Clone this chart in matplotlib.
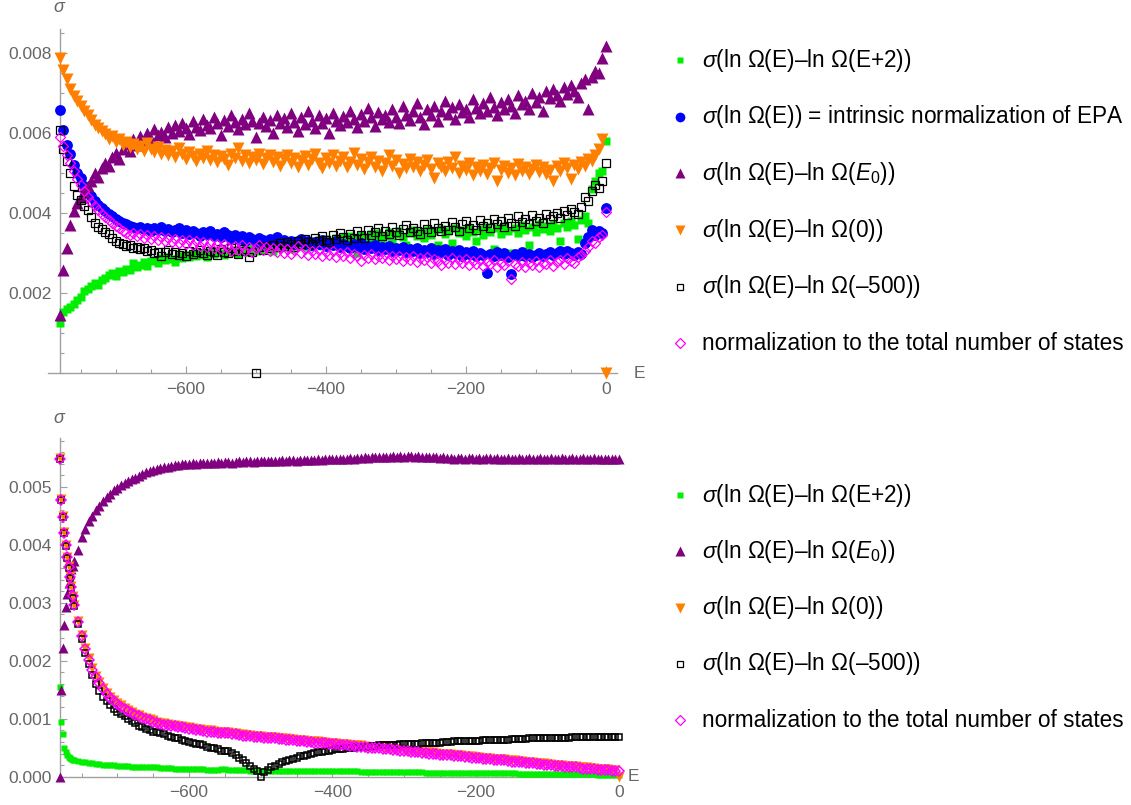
import numpy as np
import matplotlib
matplotlib.use("Agg")
import matplotlib.pyplot as plt
from matplotlib.ticker import MultipleLocator, FixedLocator, FormatStrFormatter

plt.rcParams['font.family'] = ['Liberation Sans', 'DejaVu Sans']
plt.rcParams['mathtext.fontset'] = 'custom'
plt.rcParams['mathtext.rm'] = 'Liberation Sans'
plt.rcParams['mathtext.it'] = 'Liberation Sans:italic'

# ---------------- data (sigma in units of 1e-5) ----------------
# top panel: E = -780 ... 0, every 5
E_TOP = list(range(-780, 1, 5))

top_e2 = [125, 152, 160, 166, 172, 183, 190, 205, 210, 218,
          225, 220, 233, 238, 245, 250, 242, 255, 252, 260,
          258, 275, 265, 270, 278, 268, 280, 284, 276, 288,
          282, 290, 286, 278, 292, 288, 295, 290, 298, 293,
          300, 296, 291, 303, 299, 305, 300, 296, 306, 302,
          308, 298, 305, 310, 303, 312, 306, 315, 309, 318,
          312, 305, 320, 314, 322, 316, 310, 325, 318, 328,
          321, 315, 330, 324, 333, 318, 336, 328, 322, 338,
          331, 340, 326, 343, 335, 300, 345, 338, 330, 347,
          340, 350, 336, 344, 352, 333, 347, 355, 341, 320,
          350, 357, 343, 352, 338, 358, 346, 355, 320, 360,
          349, 356, 325, 362, 351, 358, 343, 364, 352, 330,
          361, 345, 366, 353, 310, 362, 348, 368, 356, 300,
          364, 350, 370, 358, 320, 366, 352, 372, 360, 368,
          355, 374, 362, 330, 376, 365, 380, 370, 335, 382,
          392, 375, 460, 480, 500, 505, 580]

top_intrinsic = [658, 608, 570, 548, 520, 500, 488, 468, 452, 442,
                 430, 420, 412, 405, 398, 392, 386, 380, 375, 372,
                 368, 366, 362, 366, 360, 364, 356, 362, 358, 365,
                 355, 360, 352, 358, 362, 350, 357, 348, 355, 350,
                 344, 352, 347, 355, 342, 348, 340, 352, 345, 338,
                 346, 336, 344, 330, 340, 335, 328, 338, 332, 326,
                 335, 330, 340, 327, 333, 325, 331, 322, 330, 336,
                 324, 330, 320, 328, 322, 332, 318, 326, 320, 330,
                 316, 324, 318, 312, 322, 315, 325, 310, 318, 312,
                 320, 308, 316, 311, 318, 305, 314, 308, 316, 302,
                 311, 306, 314, 300, 309, 304, 312, 298, 307, 302,
                 310, 296, 305, 300, 308, 294, 303, 298, 306, 293,
                 301, 296, 250, 298, 292, 303, 295, 300, 290, 247,
                 298, 292, 302, 294, 299, 290, 296, 300, 292, 298,
                 302, 295, 300, 305, 298, 306, 300, 295, 303, 298,
                 325, 340, 358, 345, 356, 350, 413]

top_e0 = [146, 258, 313, 370, 405, 425, 440, 452, 467, 480,
          500, 490, 512, 525, 518, 540, 550, 535, 560, 572,
          555, 585, 570, 592, 578, 600, 585, 610, 596, 604,
          590, 615, 600, 620, 605, 625, 612, 598, 630, 616,
          608, 635, 620, 612, 640, 625, 595, 632, 618, 645,
          628, 610, 635, 622, 650, 630, 590, 626, 640, 618,
          632, 600, 645, 625, 638, 615, 650, 628, 605, 640,
          622, 655, 630, 612, 645, 625, 638, 600, 650, 630,
          620, 642, 628, 655, 635, 615, 648, 630, 662, 640,
          618, 652, 635, 645, 628, 660, 640, 625, 668, 645,
          632, 655, 675, 640, 622, 660, 645, 668, 630, 655,
          680, 648, 665, 635, 672, 652, 660, 640, 685, 662,
          650, 675, 655, 690, 665, 645, 678, 660, 685, 668,
          650, 695, 672, 680, 660, 700, 678, 690, 655, 705,
          688, 710, 695, 680, 715, 698, 720, 705, 690, 725,
          735, 660, 740, 755, 750, 788, 817]

top_zero = [788, 758, 735, 710, 692, 680, 667, 655, 645, 632,
            620, 612, 605, 598, 585, 592, 578, 585, 570, 578,
            565, 572, 560, 568, 555, 575, 560, 552, 565, 548,
            558, 545, 555, 540, 562, 548, 535, 552, 542, 530,
            548, 538, 555, 532, 545, 528, 542, 535, 520, 548,
            538, 562, 530, 545, 525, 540, 532, 548, 522, 538,
            545, 528, 540, 518, 535, 545, 525, 538, 515, 532,
            542, 520, 535, 548, 526, 512, 538, 525, 545, 518,
            530, 540, 515, 528, 550, 520, 535, 510, 528, 540,
            515, 530, 505, 525, 545, 518, 532, 500, 522, 512,
            535, 515, 528, 505, 520, 532, 510, 488, 525, 515,
            505, 528, 512, 540, 500, 518, 508, 525, 495, 515,
            505, 520, 498, 512, 525, 480, 508, 518, 500, 512,
            495, 522, 505, 515, 498, 510, 520, 502, 515, 498,
            508, 480, 518, 505, 525, 512, 485, 520, 510, 528,
            518, 535, 530, 545, 560, 585, 0]

top_m500 = [608, 560, 530, 500, 468, 445, 432, 418, 408, 390,
            375, 366, 360, 352, 348, 338, 330, 326, 322, 318,
            320, 314, 316, 310, 312, 306, 309, 300, 304, 292,
            302, 308, 298, 304, 296, 300, 292, 305, 298, 302,
            308, 300, 295, 306, 302, 296, 310, 304, 300, 312,
            306, 298, 310, 305, 290, 302, 0, 315, 308, 318,
            312, 320, 315, 325, 318, 328, 322, 316, 330, 324,
            335, 328, 322, 338, 330, 342, 334, 328, 345, 336,
            350, 340, 332, 348, 338, 355, 345, 338, 358, 346,
            352, 362, 344, 356, 348, 366, 352, 345, 360, 370,
            352, 364, 356, 348, 372, 360, 354, 375, 362, 355,
            368, 358, 378, 365, 356, 372, 380, 362, 370, 358,
            384, 368, 376, 362, 386, 372, 380, 366, 388, 375,
            368, 392, 378, 385, 372, 395, 380, 388, 376, 398,
            385, 392, 400, 388, 405, 395, 410, 402, 398, 415,
            440, 430, 455, 470, 462, 480, 525]

top_total = [590, 568, 545, 525, 505, 485, 470, 455, 440, 428,
             418, 408, 398, 390, 382, 375, 368, 362, 356, 350,
             346, 350, 342, 348, 338, 345, 335, 342, 333, 340,
             330, 338, 328, 336, 325, 334, 322, 332, 320, 330,
             318, 328, 315, 326, 312, 324, 310, 322, 316, 305,
             318, 308, 320, 305, 315, 302, 312, 320, 308, 316,
             305, 314, 302, 312, 300, 310, 298, 308, 318, 300,
             310, 296, 306, 298, 308, 292, 304, 296, 306, 290,
             300, 294, 304, 288, 298, 292, 280, 295, 288, 298,
             285, 294, 288, 296, 283, 292, 286, 294, 280, 290,
             284, 292, 278, 288, 282, 290, 276, 286, 280, 270,
             284, 276, 288, 272, 282, 275, 286, 270, 280, 274,
             284, 268, 278, 272, 282, 266, 276, 270, 280, 235,
             274, 268, 278, 265, 275, 270, 280, 266, 276, 272,
             282, 268, 278, 284, 274, 288, 280, 276, 290, 295,
             305, 315, 330, 325, 340, 345, 402]

# bottom panel: E = -780 ... -762 every 2, then -760 ... 0 every 5
E_BOT = [-780, -778, -776, -774, -772, -770, -768, -766, -764, -762] + list(range(-760, 1, 5))

bot_e2 = [155, 95, 74, 50, 42, 37, 34, 32, 30, 29,
          28, 27, 26, 25, 24, 23, 22, 22, 21, 21, 20, 20, 19,
          18, 18, 18, 17, 17, 17, 16, 16, 16, 16,
          16, 15, 15, 15, 15, 14, 14, 14, 13, 13,
          13, 13, 13, 13, 12, 12, 12, 12, 13, 13,
          12, 12, 11, 11, 11, 11, 10, 10, 10, 10,
          10, 10, 10, 10, 10, 10, 10, 10, 10, 10,
          10, 9, 9, 9, 9, 9, 9, 9, 9, 9,
          9, 9, 9, 9, 9, 9, 9, 8, 8, 8,
          8, 8, 8, 8, 8, 8, 8, 8, 8, 8,
          8, 8, 8, 8, 8, 7, 7, 7, 7, 7,
          7, 7, 7, 7, 7, 7, 7, 7, 7, 7,
          7, 7, 6, 6, 6, 6, 6, 6, 6, 6,
          6, 5, 5, 5, 5, 5, 5, 5, 5, 5,
          5, 5, 4, 4, 4, 4, 4, 4, 4, 4,
          4, 4, 4, 3, 3, 3, 3, 3, 3, 3]

bot_e0 = [0, 150, 222, 262, 293, 316, 334, 350, 358, 364,
          372, 392, 414, 428, 441, 450, 460, 468, 476, 482, 488, 494, 499,
          503, 506, 510, 513, 516, 519, 522, 525, 527, 529,
          531, 533, 534, 535, 537, 538, 538, 539, 540, 540,
          541, 540, 541, 542, 541, 542, 542, 543, 542, 543,
          543, 542, 543, 544, 543, 544, 544, 543, 544, 545,
          544, 545, 545, 544, 545, 546, 545, 546, 546, 545,
          546, 547, 546, 547, 547, 548, 547, 548, 548, 548,
          549, 548, 549, 549, 550, 549, 550, 550, 551, 550,
          551, 551, 552, 551, 552, 552, 553, 552, 553, 552,
          553, 553, 552, 553, 552, 552, 551, 552, 551, 550,
          551, 550, 550, 549, 550, 550, 549, 550, 550, 549,
          550, 549, 550, 550, 549, 550, 549, 549, 550, 549,
          549, 550, 549, 549, 550, 549, 549, 550, 549, 549,
          550, 549, 549, 550, 549, 549, 550, 549, 549, 550,
          549, 549, 550, 549, 549, 548, 549, 549, 549, 548]

bot_zero = [550, 479, 450, 422, 400, 380, 363, 346, 329, 312,
            297, 268, 244, 222, 204, 187, 174, 163, 153, 145, 138, 132, 127,
            123, 119, 115, 112, 109, 106, 103, 101, 99, 97,
            95, 93, 92, 91, 90, 89, 88, 87, 86, 85,
            84, 83, 82, 81, 80, 80, 79, 78, 78, 78,
            77, 76, 75, 74, 73, 72, 72, 71, 70, 70,
            69, 69, 68, 68, 67, 67, 66, 65, 65, 64,
            64, 63, 62, 62, 61, 61, 60, 60, 59, 58,
            58, 57, 57, 56, 55, 55, 54, 54, 53, 52,
            52, 51, 51, 50, 49, 49, 48, 48, 47, 46,
            46, 45, 45, 44, 43, 43, 42, 42, 41, 40,
            40, 39, 39, 38, 37, 37, 36, 36, 35, 34,
            34, 33, 33, 32, 31, 31, 30, 30, 29, 28,
            28, 27, 27, 26, 25, 25, 24, 24, 23, 22,
            22, 21, 21, 20, 19, 19, 18, 18, 17, 16,
            16, 15, 15, 14, 14, 13, 13, 12, 12, 0]

bot_m500 = [548, 477, 448, 420, 398, 378, 360, 343, 326, 309,
            294, 264, 238, 214, 195, 176, 160, 148, 138, 130, 123, 117, 112,
            108, 104, 100, 96, 92, 88, 85, 83, 80, 78,
            77, 75, 73, 71, 69, 67, 66, 64, 62, 60,
            59, 57, 56, 54, 52, 50, 49, 47, 45, 44,
            44, 41, 37, 33, 28, 24, 19, 14, 9, 0,
            8, 12, 16, 19, 22, 25, 27, 29, 31, 33,
            35, 36, 38, 39, 41, 42, 43, 44, 45, 46,
            47, 48, 48, 49, 50, 50, 51, 51, 52, 52,
            53, 53, 54, 54, 54, 55, 55, 55, 56, 56,
            56, 57, 57, 57, 58, 58, 58, 59, 59, 59,
            60, 60, 60, 61, 61, 61, 61, 62, 62, 62,
            62, 63, 63, 63, 63, 64, 64, 64, 64, 65,
            65, 65, 65, 65, 66, 66, 66, 66, 66, 67,
            67, 67, 67, 67, 67, 67, 68, 68, 68, 68,
            68, 68, 68, 68, 68, 68, 68, 68, 68, 68]

bot_total = [549, 478, 449, 421, 399, 379, 362, 345, 328, 311,
             296, 267, 243, 221, 202, 185, 172, 161, 151, 143, 136, 130, 125,
             121, 117, 113, 110, 107, 104, 101, 99, 97, 95,
             93, 91, 90, 89, 88, 87, 86, 85, 84, 83,
             82, 81, 80, 79, 78, 78, 77, 76, 76, 76,
             75, 74, 73, 72, 71, 70, 70, 69, 68, 68,
             67, 67, 66, 66, 65, 65, 64, 63, 63, 62,
             62, 61, 60, 60, 59, 59, 58, 58, 57, 56,
             56, 55, 55, 54, 53, 53, 52, 52, 51, 50,
             50, 49, 49, 48, 47, 47, 46, 46, 45, 44,
             44, 43, 43, 42, 41, 41, 40, 40, 39, 38,
             38, 37, 37, 36, 35, 35, 34, 34, 33, 32,
             32, 31, 31, 30, 29, 29, 28, 28, 27, 26,
             26, 25, 25, 24, 23, 23, 22, 22, 21, 20,
             20, 19, 19, 18, 17, 17, 16, 16, 15, 14,
             14, 13, 13, 12, 12, 11, 11, 10, 10, 10]

LABEL_E2 = r'$\sigma$(ln Ω(E)–ln Ω(E+2))'
LABEL_INTR = r'$\sigma$(ln Ω(E)) = intrinsic normalization of EPA'
LABEL_E0 = r'$\sigma$(ln Ω(E)–ln Ω($E_0$))'
LABEL_ZERO = r'$\sigma$(ln Ω(E)–ln Ω(0))'
LABEL_M500 = r'$\sigma$(ln Ω(E)–ln Ω(–500))'
LABEL_TOTAL = 'normalization to the total number of states'

GREEN, BLUE, PURPLE, ORANGE, MAGENTA = '#00ee00', '#0000ff', '#800080', '#ff8000', '#ff00ff'
AXIS_GRAY = '#a0a0a0'
TEXT_GRAY = '#666666'

# marker styles: (marker, color, hollow)
ST_E2 = ('s', GREEN, False)
ST_INTR = ('o', BLUE, False)
ST_E0 = ('^', PURPLE, False)
ST_ZERO = ('v', ORANGE, False)
ST_M500 = ('s', 'black', True)
ST_TOTAL = ('D', MAGENTA, True)


def dots(ax, x, y, style, ms, scale=1e-5, mew=0.9):
    marker, color, hollow = style
    kw = dict(ls='none', marker=marker, ms=ms, clip_on=False, zorder=3)
    if hollow:
        kw.update(mfc='none', mec=color, mew=mew)
    else:
        kw.update(color=color, mec='none')
    ax.plot(x, np.asarray(y, dtype=float) * scale, **kw)


def style_axes(ax):
    for s in ('top', 'right'):
        ax.spines[s].set_visible(False)
    for s in ('left', 'bottom'):
        ax.spines[s].set_color(AXIS_GRAY)
        ax.spines[s].set_linewidth(1.0)
        ax.spines[s].set_zorder(1)
    ax.tick_params(which='both', direction='in', color=AXIS_GRAY, width=0.8,
                   labelcolor=TEXT_GRAY, labelsize=12.5)
    ax.tick_params(which='major', length=5, pad=6)
    ax.tick_params(which='minor', length=3)
    ax.xaxis.set_major_locator(FixedLocator([-600, -400, -200, 0]))
    ax.xaxis.set_minor_locator(MultipleLocator(50))
    ax.patch.set_visible(False)


W, H = 1131, 805
fig = plt.figure(figsize=(W / 100, H / 100), dpi=100)

# ---------------- top panel ----------------
ax1 = fig.add_axes([48 / W, 1 - 373.3 / H, 569.1 / W, 344 / H])
ax1.set_xlim(-797, 16)
ax1.set_ylim(0, 0.0086)
style_axes(ax1)
ax1.spines['left'].set_position(('data', -780))
ax1.yaxis.set_major_locator(FixedLocator([0.002, 0.004, 0.006, 0.008]))
ax1.yaxis.set_minor_locator(MultipleLocator(0.0005))
ax1.yaxis.set_major_formatter(FormatStrFormatter('%.3f'))

dots(ax1, E_TOP, top_e2, ST_E2, 6.2)
dots(ax1, E_TOP, top_intrinsic, ST_INTR, 7.8)
dots(ax1, E_TOP, top_e0, ST_E0, 8.8)
dots(ax1, E_TOP, top_zero, ST_ZERO, 8.8)
dots(ax1, E_TOP, top_m500, ST_M500, 6.0)
dots(ax1, E_TOP, top_total, ST_TOTAL, 5.2)

# ---------------- bottom panel ----------------
ax2 = fig.add_axes([60 / W, 1 - 776.7 / H, 559 / W, 338.4 / H])
ax2.set_xlim(-780, 0)
ax2.set_ylim(0, 0.00584)
style_axes(ax2)
ax2.yaxis.set_major_locator(MultipleLocator(0.001))
ax2.yaxis.set_minor_locator(MultipleLocator(0.0002))
ax2.yaxis.set_major_formatter(FormatStrFormatter('%.3f'))

dots(ax2, E_BOT, bot_e2, ST_E2, 5.0)
dots(ax2, E_BOT, bot_e0, ST_E0, 7.0)
dots(ax2, E_BOT, bot_zero, ST_ZERO, 6.8)
dots(ax2, E_BOT, bot_m500, ST_M500, 5.0, mew=1.1)
dots(ax2, E_BOT, bot_total, ST_TOTAL, 4.8, mew=1.1)

# ---------------- labels and legends (pixel coordinates) ----------------
ov = fig.add_axes([0, 0, 1, 1])
ov.set_xlim(0, W)
ov.set_ylim(H, 0)
ov.axis('off')

ov.text(60, 8, r'$\sigma$', fontsize=13, color=TEXT_GRAY, ha='center', va='center')
ov.text(60, 418, r'$\sigma$', fontsize=13, color=TEXT_GRAY, ha='center', va='center')
ov.text(634, 373, 'E', fontsize=12.5, color=TEXT_GRAY, ha='left', va='center')
ov.text(628, 776, 'E', fontsize=12.5, color=TEXT_GRAY, ha='left', va='center')

top_legend = [(ST_E2, 5, LABEL_E2), (ST_INTR, 7, LABEL_INTR), (ST_E0, 7, LABEL_E0),
              (ST_ZERO, 7, LABEL_ZERO), (ST_M500, 5, LABEL_M500), (ST_TOTAL, 4.6, LABEL_TOTAL)]
bot_legend = [(ST_E2, 5, LABEL_E2), (ST_E0, 7, LABEL_E0), (ST_ZERO, 7, LABEL_ZERO),
              (ST_M500, 5, LABEL_M500), (ST_TOTAL, 4.6, LABEL_TOTAL)]

for i, (st, ms, lab) in enumerate(top_legend):
    y = 60 + i * 56.7
    dots(ov, [680], [y], st, ms, scale=1)
    ov.text(702, y, lab, fontsize=16.3, color='black', ha='left', va='center')

for i, (st, ms, lab) in enumerate(bot_legend):
    y = 495 + i * 56.3
    dots(ov, [680], [y], st, ms, scale=1)
    ov.text(702, y, lab, fontsize=16.3, color='black', ha='left', va='center')

fig.savefig('out.png', dpi=100)
